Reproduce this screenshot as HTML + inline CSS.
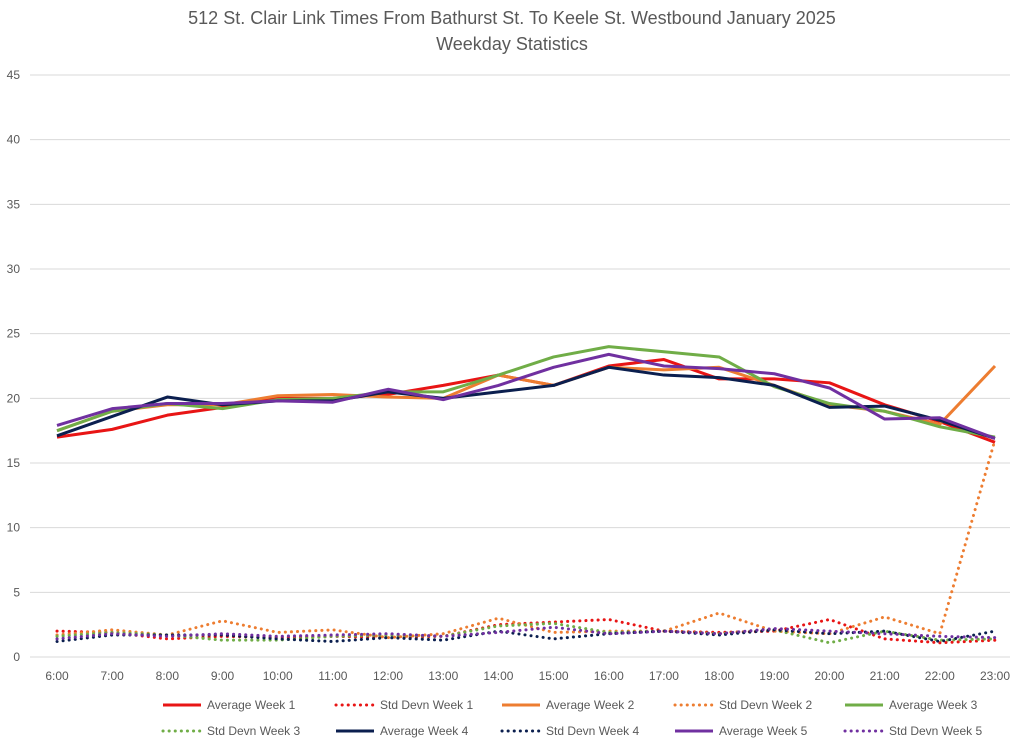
<!DOCTYPE html>
<html><head><meta charset="utf-8"><style>
body{margin:0;background:#fff;font-family:"Liberation Sans",sans-serif}
svg text{font-family:"Liberation Sans",sans-serif;fill:#595959}
</style></head><body>
<svg id="chart" width="1024" height="745" xmlns="http://www.w3.org/2000/svg">
<text x="512" y="24" font-size="18" text-anchor="middle">512 St. Clair Link Times From Bathurst St. To Keele St. Westbound January 2025</text>
<text x="512" y="50" font-size="18" text-anchor="middle">Weekday Statistics</text>
<g id="grid"></g><g id="series"></g><g id="legend"></g>
</svg>
<script>
const categories=["6:00","7:00","8:00","9:00","10:00","11:00","12:00","13:00","14:00","15:00","16:00","17:00","18:00","19:00","20:00","21:00","22:00","23:00"];
const yTicks=[0,5,10,15,20,25,30,35,40,45];
const avgW1=[17.0,17.6,18.7,19.3,20.0,20.0,20.3,21.0,21.8,21.0,22.5,23.0,21.5,21.5,21.2,19.5,18.2,16.6];
const sdW1=[2.0,1.9,1.4,1.6,1.5,1.6,1.5,1.6,2.5,2.7,2.9,2.0,1.9,2.0,2.9,1.4,1.1,1.3];
const avgW2=[17.5,19.0,19.5,19.5,20.2,20.3,20.1,20.0,21.8,21.0,22.4,22.2,22.4,21.0,19.5,19.0,18.0,22.5];
const sdW2=[1.7,2.1,1.7,2.8,1.9,2.1,1.5,1.8,3.0,1.9,2.0,2.0,3.4,2.0,1.8,3.1,1.8,16.8];
const avgW3=[17.5,19.0,19.6,19.2,19.9,20.0,20.5,20.5,21.8,23.2,24.0,23.6,23.2,20.9,19.6,19.0,17.8,17.0];
const sdW3=[1.6,1.9,1.7,1.3,1.3,1.6,1.7,1.6,2.4,2.6,1.9,2.0,1.8,2.1,1.1,2.0,1.3,1.4];
const avgW4=[17.1,18.6,20.1,19.5,19.8,19.8,20.5,20.0,20.5,21.0,22.4,21.8,21.6,21.0,19.3,19.4,18.3,16.9];
const sdW4=[1.2,1.7,1.7,1.7,1.4,1.2,1.5,1.3,2.0,1.4,1.8,2.0,1.7,2.1,1.8,2.0,1.2,2.0];
const avgW5=[17.9,19.2,19.6,19.6,19.8,19.7,20.7,19.9,21.0,22.4,23.4,22.5,22.3,21.9,20.8,18.4,18.5,16.9];
const sdW5=[1.4,1.8,1.6,1.8,1.6,1.7,1.8,1.6,1.9,2.3,1.8,2.0,1.8,2.2,2.0,1.8,1.6,1.5];
const seriesNames=["Average Week 1","Std Devn Week 1","Average Week 2","Std Devn Week 2","Average Week 3","Std Devn Week 3","Average Week 4","Std Devn Week 4","Average Week 5","Std Devn Week 5"];
const NS="http://www.w3.org/2000/svg";
const X0=57,X1=995,Y0=657,Y45=75;
const x=i=>X0+i*(X1-X0)/(categories.length-1);
const y=v=>Y0-(v/45)*(Y0-Y45);
function mk(t,a,p){const e=document.createElementNS(NS,t);for(const k in a)e.setAttribute(k,a[k]);p.appendChild(e);return e;}
const grid=document.getElementById('grid');
yTicks.forEach(t=>{
 const l=mk('line',{x1:30,x2:1010,y1:y(t),y2:y(t),stroke:'#d9d9d9','stroke-width':1},grid);
 
 
 const tx=mk('text',{x:20,y:y(t)+4,'font-size':12,'text-anchor':'end'},grid);tx.textContent=t;
 
 
});
categories.forEach((c,i)=>{
 const tx=mk('text',{x:x(i),y:680,'font-size':12,'text-anchor':'middle'},grid);tx.textContent=c;
 
 
});
const data=[avgW1,sdW1,avgW2,sdW2,avgW3,sdW3,avgW4,sdW4,avgW5,sdW5];
const colors=["#e81515","#e81515","#ed7d31","#ed7d31","#70ad47","#70ad47","#0b1f4f","#0b1f4f","#7030a0","#7030a0"];
const sg=document.getElementById('series');
const order=[1,3,5,7,9,0,2,4,6,8];
order.forEach(k=>{
 const dotted=k%2===1;
 const p=mk('polyline',{points:data[k].map((v,i)=>x(i)+','+y(v)).join(' '),fill:'none',stroke:colors[k],'stroke-width':3,'stroke-linejoin':'round','stroke-linecap':dotted?'round':'butt'},sg);
 if(dotted)p.setAttribute('stroke-dasharray','0.1 6');
 
 
});
const lg=document.getElementById('legend');
const cols=[163,336,502,675,845];
seriesNames.forEach((n,k)=>{
 const r=Math.floor(k/5),c=k%5,yy=705+r*26,xx=cols[c];
 const g=mk('g',{},lg);
 
 
 const l=mk('line',{x1:xx,x2:xx+38,y1:yy,y2:yy,stroke:colors[k],'stroke-width':3,'stroke-linecap':k%2?'round':'butt'},g);
 if(k%2)l.setAttribute('stroke-dasharray','0.1 6');
 const t=mk('text',{x:xx+44,y:yy+4,'font-size':12},g);t.textContent=n;
});
</script>
</body></html>
